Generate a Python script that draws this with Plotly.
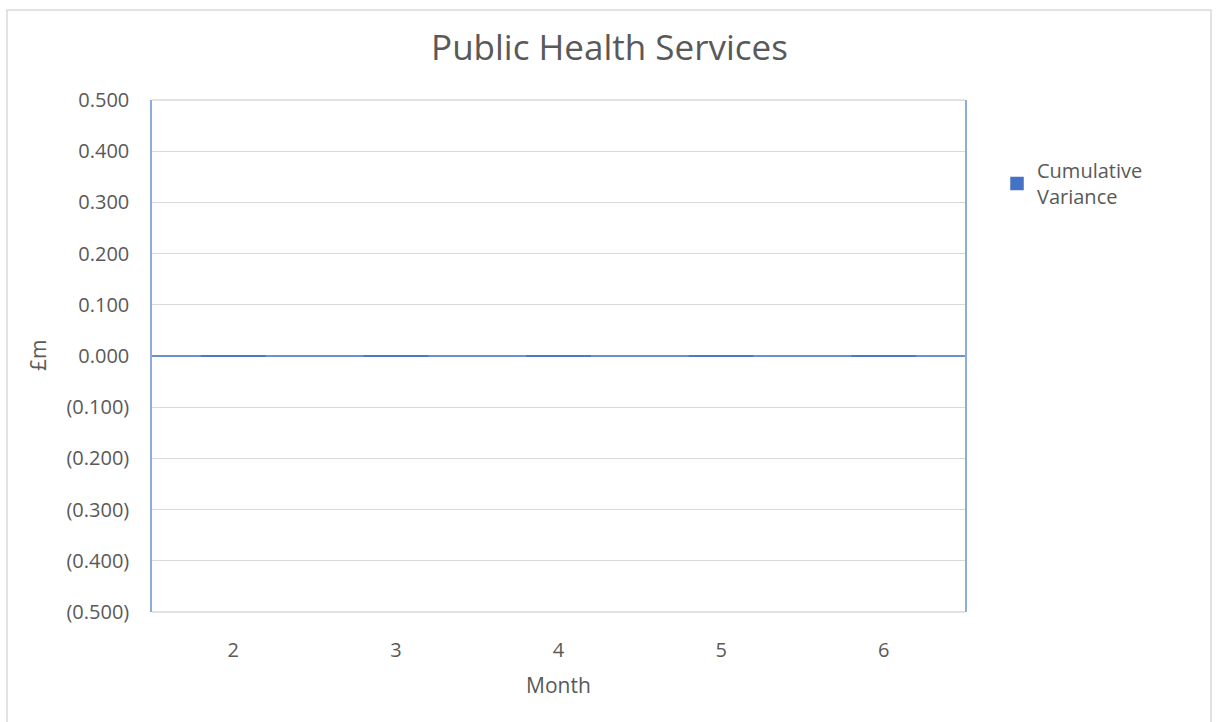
import plotly.graph_objects as go

months = ["2", "3", "4", "5", "6"]
cumulative_variance = [0.0, 0.0, 0.0, 0.0, 0.0]
y_tick_vals = [0.5, 0.4, 0.3, 0.2, 0.1, 0.0, -0.1, -0.2, -0.3, -0.4, -0.5]
y_tick_text = ["0.500", "0.400", "0.300", "0.200", "0.100", "0.000",
               "(0.100)", "(0.200)", "(0.300)", "(0.400)", "(0.500)"]

FONT = "Open Sans"
TXT = "#595959"

# plot area in pixels
L, R, T, B = 152, 965, 100, 612
PW, PH = R - L, B - T

fig = go.Figure()
fig.add_trace(go.Bar(
    x=months, y=cumulative_variance, name="Cumulative<br>Variance",
    marker=dict(color="#4472c4", line=dict(color="#4472c4", width=1.5)),
))

fig.update_layout(
    width=1219, height=722,
    margin=dict(l=L, r=1219 - R, t=T, b=722 - B),
    paper_bgcolor="white", plot_bgcolor="white",
    bargap=0.6,
    font=dict(family=FONT, color=TXT, size=20),
    title=dict(text="Public Health Services", x=0.5, xref="container", xanchor="center",
               y=1 - 48 / 722, yanchor="middle", font=dict(size=35, color=TXT, family=FONT)),
    showlegend=True,
    legend=dict(x=(997 - L) / PW, y=(B - 151) / PH, xanchor="left", yanchor="top",
                font=dict(size=20, color=TXT), itemwidth=30, tracegroupgap=0),
    xaxis=dict(
        type="category", showgrid=False, showline=False, ticks="",
        tickfont=dict(size=20, color=TXT), ticklabelstandoff=24,
    ),
    yaxis=dict(
        range=[-0.5, 0.5], tickvals=y_tick_vals, ticktext=y_tick_text,
        showgrid=True, gridcolor="#d9d9d9", gridwidth=1,
        zeroline=True, zerolinecolor="#6e8fd0", zerolinewidth=1.5,
        showline=True, linecolor="#8faadc", linewidth=1.5, mirror=True,
        tickfont=dict(size=20, color=TXT), ticks="", ticklabelstandoff=17,
    ),
    annotations=[
        dict(text="£m", xref="paper", yref="paper", x=(38 - L) / PW, y=0.5,
             xanchor="center", yanchor="middle", textangle=-90, showarrow=False,
             font=dict(size=21, color=TXT)),
        dict(text="Month", xref="paper", yref="paper", x=0.5, y=(B - 685) / PH,
             xanchor="center", yanchor="middle", showarrow=False,
             font=dict(size=21, color=TXT)),
    ],
    shapes=[
        dict(type="rect", xref="paper", yref="paper",
             x0=(7 - L) / PW, x1=(1211 - L) / PW,
             y0=(B - 740) / PH, y1=(B - 10) / PH,
             line=dict(color="#d9d9d9", width=1.5), fillcolor="rgba(0,0,0,0)", layer="below"),
        dict(type="line", xref="paper", yref="paper", x0=0, x1=1, y0=0, y1=0,
             line=dict(color="#d9d9d9", width=1.5), layer="below"),
        dict(type="line", xref="paper", yref="paper", x0=0, x1=1, y0=1, y1=1,
             line=dict(color="#d9d9d9", width=1.5), layer="below"),
    ],
)

fig.write_html("out.html")
